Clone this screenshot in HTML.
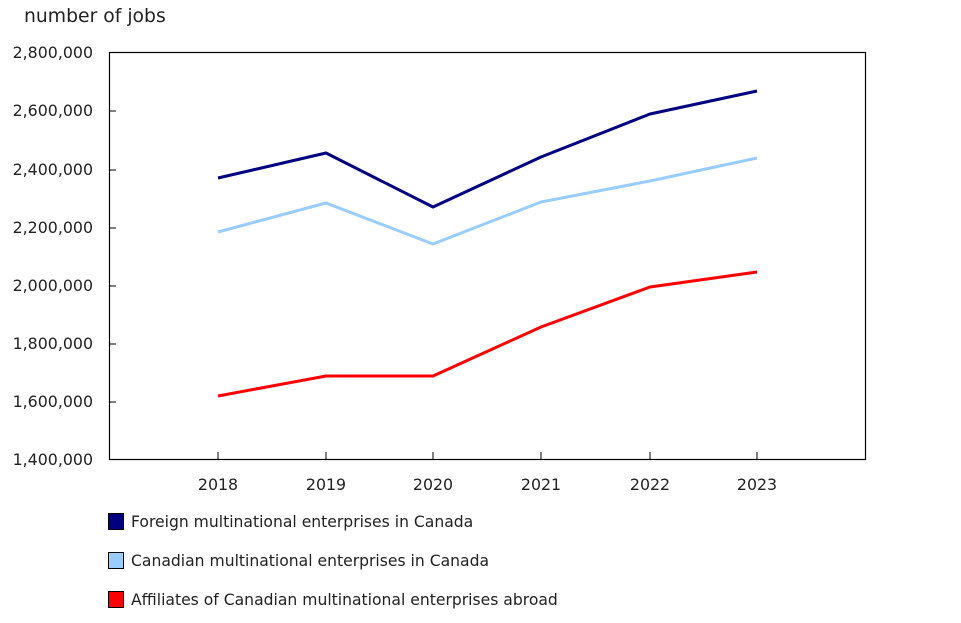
<!DOCTYPE html>
<html><head><style>
body{margin:0;background:#fff;}
svg text{font-family:"DejaVu Sans","Liberation Sans",sans-serif;font-size:15.8px;fill:#222;}
</style></head><body>
<svg width="961" height="618" xmlns="http://www.w3.org/2000/svg">
<text x="24" y="22" style="font-size:18.8px">number of jobs</text>
<rect x="109.5" y="52.5" width="756" height="407" fill="none" stroke="#000" stroke-width="1.2"/>
<g text-anchor="end">
<text x="93" y="465">1,400,000</text>
<text x="93" y="407">1,600,000</text>
<text x="93" y="349">1,800,000</text>
<text x="93" y="291">2,000,000</text>
<text x="93" y="233">2,200,000</text>
<text x="93" y="175">2,400,000</text>
<text x="93" y="116">2,600,000</text>
<text x="93" y="58">2,800,000</text>
</g>
<g stroke="#000" stroke-width="1">
<line x1="109" y1="402" x2="116" y2="402"/><line x1="109" y1="344" x2="116" y2="344"/>
<line x1="109" y1="286" x2="116" y2="286"/><line x1="109" y1="228" x2="116" y2="228"/>
<line x1="109" y1="170" x2="116" y2="170"/><line x1="109" y1="111" x2="116" y2="111"/>
<line x1="218" y1="452" x2="218" y2="459"/><line x1="326" y1="452" x2="326" y2="459"/>
<line x1="433" y1="452" x2="433" y2="459"/><line x1="541" y1="452" x2="541" y2="459"/>
<line x1="650" y1="452" x2="650" y2="459"/><line x1="757" y1="452" x2="757" y2="459"/>
</g>
<g text-anchor="middle">
<text x="218" y="490">2018</text><text x="326" y="490">2019</text><text x="433" y="490">2020</text>
<text x="541" y="490">2021</text><text x="650" y="490">2022</text><text x="757" y="490">2023</text>
</g>
<g fill="none" stroke-width="3" stroke-linejoin="round">
<polyline stroke="#000080" points="218,178 326,153 433,207 541,157 650,114 757,91"/>
<polyline stroke="#99ccff" points="218,232 326,203 433,244 541,202 650,181 757,158"/>
<polyline stroke="#ff0000" points="218,396 326,376 433,376 541,327 650,287 757,272"/>
</g>
<g style="font-size:15.6px">
<rect x="108.5" y="513.5" width="15" height="16" fill="#000080" stroke="#000"/>
<text x="131" y="527" style="font-size:15.6px">Foreign multinational enterprises in Canada</text>
<rect x="108.5" y="552.5" width="15" height="16" fill="#99ccff" stroke="#000"/>
<text x="131" y="566" style="font-size:15.6px">Canadian multinational enterprises in Canada</text>
<rect x="108.5" y="591.5" width="15" height="16" fill="#ff0000" stroke="#000"/>
<text x="131" y="605" style="font-size:15.6px">Affiliates of Canadian multinational enterprises abroad</text>
</g>
</svg>
</body></html>
